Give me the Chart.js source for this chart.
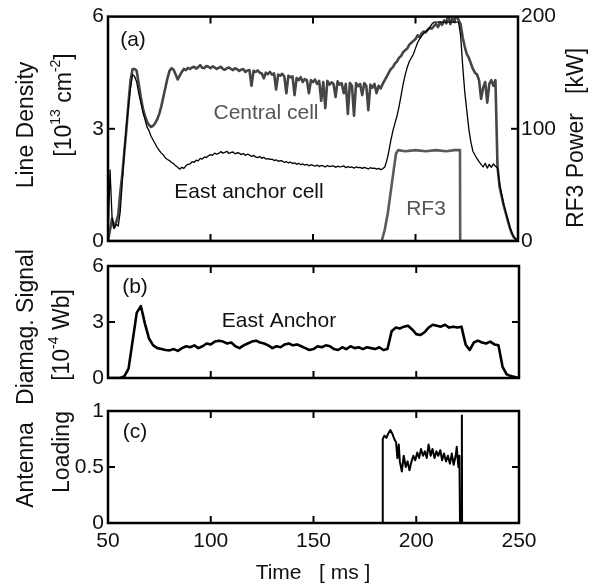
<!DOCTYPE html>
<html>
<head>
<meta charset="utf-8">
<script src="https://cdn.jsdelivr.net/npm/chart.js@4.4.0/dist/chart.umd.min.js"></script>
<style>
  html, body { margin: 0; padding: 0; background: #fff; }
  #wrap { position: relative; width: 603px; height: 587px; }
  #wrap canvas { position: absolute; left: 0; top: 0; }
</style>
</head>
<body>
<div id="wrap">
  <canvas id="panelA" width="603" height="587"></canvas>
  <canvas id="panelB" width="603" height="587"></canvas>
  <canvas id="panelC" width="603" height="587"></canvas>
</div>
<script>
// sample grids (ms)
const timeMs = [];
for (let t = 50; t <= 250; t++) timeMs.push(t);
const diamagTime = [];
for (let t = 50; t <= 250; t += 2) diamagTime.push(t);

// (a) line density [1e13 cm^-2], one value per ms from 50 to 250
const centralCell = [
  0.0, 0.3, 0.6, 0.35, 0.5, 0.7, 1.3, 1.8, 2.4, 3.0,          // 50
  3.7, 4.3, 4.6, 4.6, 4.55, 4.2, 3.85, 3.55, 3.35, 3.2,       // 60
  3.1, 3.05, 3.08, 3.15, 3.25, 3.4, 3.6, 3.85, 4.1, 4.35,     // 70
  4.55, 4.62, 4.58, 4.45, 4.32, 4.42, 4.52, 4.6, 4.57, 4.63,  // 80
  4.6, 4.64, 4.66, 4.61, 4.65, 4.7, 4.63, 4.62, 4.68, 4.66,   // 90
  4.62, 4.67, 4.64, 4.6, 4.63, 4.66, 4.6, 4.58, 4.62, 4.64,   // 100
  4.6, 4.57, 4.62, 4.59, 4.55, 4.58, 4.6, 4.52, 4.56, 4.57,   // 110
  4.15, 4.55, 4.52, 4.56, 4.5, 4.48, 4.35, 4.5, 4.46, 4.52,   // 120
  4.45, 4.48, 4.05, 4.45, 4.42, 4.47, 4.4, 3.95, 4.42, 4.38,  // 130
  4.4, 3.9, 4.36, 4.3, 4.38, 4.25, 4.33, 4.3, 3.95, 4.3,      // 140
  4.25, 4.32, 4.2, 4.28, 3.75, 4.25, 3.55, 4.28, 4.18, 4.24,  // 150
  4.2, 3.85, 4.27, 4.18, 4.22, 3.95, 4.2, 3.4, 4.22, 4.15,    // 160
  3.35, 4.22, 4.14, 4.2, 3.9, 4.22, 4.15, 3.5, 4.18, 4.1,     // 170
  4.2, 3.95, 4.15, 4.08, 4.2, 4.3, 4.4, 4.5, 4.6, 4.65,       // 180
  4.75, 4.8, 4.9, 4.95, 5.05, 5.1, 5.15, 5.25, 5.3, 5.35,     // 190
  5.4, 5.5, 5.45, 5.55, 5.6, 5.58, 5.65, 5.7, 5.68, 5.75,     // 200
  5.8, 5.72, 5.85, 5.78, 5.9, 5.82, 6.05, 5.8, 5.95, 5.85,    // 210
  6.1, 5.9, 5.8, 5.45, 5.2, 5.0, 4.9, 4.75, 4.6, 4.5,         // 220
  4.45, 4.3, 3.8, 4.1, 4.25, 3.7, 4.2, 4.3, 4.15, 4.3,        // 230
  2.0, 1.45, 1.2, 0.95, 0.75, 0.55, 0.35, 0.2, 0.1, 0.05,     // 240
  0.0
];
const eastAnchorCell = [
  0.0, 1.9, 0.6, 0.35, 0.45, 0.4, 0.8, 1.6, 2.4, 3.1,         // 50
  3.6, 4.1, 4.45, 4.4, 4.25, 3.95, 3.7, 3.45, 3.25, 3.05,     // 60
  2.95, 2.8, 2.7, 2.6, 2.5, 2.42, 2.35, 2.3, 2.22, 2.18,      // 70
  2.15, 2.1, 2.07, 2.01, 1.97, 1.92, 1.97, 1.94, 2.01, 2.05,  // 80
  2.06, 2.12, 2.1, 2.16, 2.14, 2.21, 2.19, 2.25, 2.23, 2.28,  // 90
  2.31, 2.29, 2.35, 2.32, 2.34, 2.39, 2.35, 2.37, 2.4, 2.34,  // 100
  2.37, 2.38, 2.33, 2.36, 2.35, 2.31, 2.34, 2.29, 2.32, 2.3,  // 110
  2.26, 2.29, 2.25, 2.23, 2.26, 2.21, 2.24, 2.19, 2.2, 2.18,  // 120
  2.19, 2.15, 2.17, 2.13, 2.15, 2.14, 2.1, 2.12, 2.09, 2.11,  // 130
  2.07, 2.09, 2.05, 2.08, 2.04, 2.06, 2.03, 2.05, 2.01, 2.04, // 140
  2.02, 2.0, 2.03, 1.99, 2.02, 2.01, 1.98, 2.02, 1.99, 2.0,   // 150
  2.01, 1.97, 2.0, 1.98, 1.99, 2.01, 1.96, 1.99, 1.97, 1.98,  // 160
  1.95, 1.98, 1.96, 1.97, 1.94, 1.97, 1.95, 1.93, 1.96, 1.94, // 170
  1.95, 1.92, 1.94, 1.91, 1.93, 1.98, 2.15, 2.4, 2.7, 2.95,   // 180
  3.15, 3.35, 3.6, 3.9, 4.2, 4.45, 4.65, 4.8, 4.9, 5.0,       // 190
  5.15, 5.3, 5.4, 5.48, 5.55, 5.6, 5.65, 5.72, 5.8, 5.85,     // 200
  5.85, 5.85, 5.85, 5.85, 5.85, 5.85, 5.85, 5.85, 5.85, 5.85, // 210
  5.85, 5.85, 5.5, 4.7, 4.0, 3.5, 3.0, 2.65, 2.4, 2.3,        // 220
  2.2, 2.12, 2.05, 1.98, 2.08, 1.95, 2.05, 1.97, 2.06, 2.0,   // 230
  1.95, 1.55, 1.25, 1.0, 0.78, 0.58, 0.38, 0.22, 0.1, 0.03,   // 240
  0.0
];
// RF3 power [kW]
const rf3Time  = [50, 183.5, 185, 186.5, 188, 189.5, 190.5, 191.5, 195, 200, 205, 210, 215, 219, 221.7, 221.8, 250];
const rf3Power = [0, 0, 10, 25, 45, 65, 78, 81, 80, 81, 80, 81, 80, 81, 81, 0, 0];

// (b) diamagnetic signal [1e-4 Wb], every 2 ms
const diamagSignal = [
  0, 0, 0, 0, 0.1, 0.5, 2.0, 3.5, 3.85, 2.9,
  2.1, 1.75, 1.6, 1.55, 1.5, 1.48, 1.55, 1.45, 1.6, 1.7,
  1.65, 1.75, 1.6, 1.7, 1.85, 1.8, 1.95, 2.0, 1.95, 1.85,
  1.9, 1.7, 1.6, 1.75, 1.85, 1.95, 2.0, 1.9, 1.85, 1.75,
  1.6, 1.7, 1.65, 1.8, 1.85, 1.75, 1.8, 1.7, 1.6, 1.5,
  1.55, 1.7, 1.65, 1.75, 1.7, 1.55, 1.5, 1.65, 1.55, 1.7,
  1.6, 1.65, 1.55, 1.65, 1.6, 1.55, 1.65, 1.5, 1.55, 2.5,
  2.7, 2.65, 2.75, 2.8, 2.6, 2.35, 2.3, 2.45, 2.7, 2.85,
  2.8, 2.75, 2.85, 2.7, 2.75, 2.7, 2.75, 1.8, 1.5, 1.9,
  2.0, 1.9, 1.85, 1.95, 1.8, 1.75, 0.6, 0.2, 0.1, 0.05,
  0
];

// (c) antenna loading
const antennaTime = [50, 183.5, 183.7, 184.5, 185.5, 186.4, 187.4, 188.3, 189.3, 190.2,
  190.8, 191.5, 192, 193, 193.9, 194.9, 195.8, 196.7, 197.7, 198.6,
  199.5, 200.5, 201.4, 202.3, 203.3, 204.2, 205.1, 206, 207, 207.9,
  208.9, 209.8, 210.7, 211.7, 212.6, 213.5, 214.5, 215.4, 216.4, 217.3,
  218.2, 219.2, 219.7, 220.5, 221, 221.3, 222.1, 222.2, 222.3, 250];
const antennaLoading = [0, 0, 0.75, 0.78, 0.76, 0.8, 0.83, 0.8, 0.75, 0.72,
  0.58, 0.7, 0.55, 0.46, 0.6, 0.5, 0.55, 0.47, 0.55, 0.6,
  0.56, 0.63, 0.58, 0.66, 0.6, 0.64, 0.58, 0.7, 0.6, 0.66,
  0.58, 0.64, 0.6, 0.65, 0.56, 0.62, 0.55, 0.6, 0.53, 0.62,
  0.52, 0.6, 0.68, 0.5, 0.6, 0, 0, 0.96, 0, 0];

const FONT = '"Liberation Sans", Arial, Helvetica, sans-serif';
Chart.defaults.font.family = FONT;
Chart.defaults.font.size = 21;
Chart.defaults.color = '#111';

function pts(xs, ys) { return xs.map((x, i) => ({ x: x, y: ys[i] })); }
function fixedWidth(w) { return s => { s.width = w; }; }
function fixedHeight(h) { return s => { s.height = h; }; }

// box around the plot area and small inward ticks
const frameTicks = {
  id: 'frameTicks',
  afterDatasetsDraw(chart, args, opts) {
    const { ctx, chartArea: a, scales } = chart;
    ctx.save();
    ctx.strokeStyle = '#000';
    ctx.lineWidth = 2;
    (opts.xTicks || []).forEach(v => {
      const x = scales.x.getPixelForValue(v);
      ctx.beginPath();
      ctx.moveTo(x, a.bottom); ctx.lineTo(x, a.bottom - 7);
      ctx.moveTo(x, a.top); ctx.lineTo(x, a.top + 7);
      ctx.stroke();
    });
    (opts.yTicks || []).forEach(([id, v, side]) => {
      const y = scales[id].getPixelForValue(v);
      ctx.beginPath();
      if (side !== 'right') { ctx.moveTo(a.left, y); ctx.lineTo(a.left + 7, y); }
      if (side !== 'left') { ctx.moveTo(a.right, y); ctx.lineTo(a.right - 7, y); }
      ctx.stroke();
    });
    ctx.lineWidth = 2.5;
    ctx.strokeRect(a.left, a.top, a.width, a.height);
    ctx.restore();
  }
};

// free text, with optional superscript parts and vertical rotation
function drawText(ctx, item) {
  const parts = typeof item.text === 'string' ? [[item.text, 0]] : item.text;
  const size = item.size || 21;
  const supSize = Math.round(size * 0.6);
  ctx.save();
  ctx.translate(item.x, item.y);
  if (item.rot) ctx.rotate(-Math.PI / 2);
  ctx.fillStyle = item.color || '#111';
  ctx.textBaseline = 'middle';
  ctx.textAlign = 'left';
  let total = 0;
  parts.forEach(([s, sup]) => {
    ctx.font = (sup ? supSize : size) + 'px ' + FONT;
    total += ctx.measureText(s).width;
  });
  let x = -total / 2;
  parts.forEach(([s, sup]) => {
    ctx.font = (sup ? supSize : size) + 'px ' + FONT;
    ctx.fillText(s, x, sup ? -size * 0.38 : 0);
    x += ctx.measureText(s).width;
  });
  ctx.restore();
}
const panelText = {
  id: 'panelText',
  afterDraw(chart, args, opts) {
    (opts.items || []).forEach(it => drawText(chart.ctx, it));
  }
};

const noGrid = { display: false, drawTicks: false };
const lineEl = { point: { radius: 0 }, line: { tension: 0, borderJoinStyle: 'round' } };
const plainNum = v => String(v);

new Chart(document.getElementById('panelA'), {
  type: 'line',
  data: {
    datasets: [
      { label: 'East anchor cell', data: pts(timeMs, eastAnchorCell), borderColor: '#000', borderWidth: 1.3, order: 0, yAxisID: 'y' },
      { label: 'Central cell', data: pts(timeMs, centralCell), borderColor: '#454545', borderWidth: 2.6, order: 1, yAxisID: 'y' },
      { label: 'RF3', data: pts(rf3Time, rf3Power), borderColor: '#5a5a5a', borderWidth: 2.6, order: 2, yAxisID: 'y2' }
    ]
  },
  options: {
    responsive: false,
    animation: false,
    layout: { padding: { left: 68, right: 40, top: 15, bottom: 346 } },
    elements: lineEl,
    plugins: {
      legend: { display: false },
      tooltip: { enabled: false },
      frameTicks: { xTicks: [100, 150, 200], yTicks: [['y', 3, 'left'], ['y2', 100, 'right']] },
      panelText: {
        items: [
          { text: '(a)', x: 133, y: 40 },
          { text: 'Central cell', x: 266, y: 113, color: '#555' },
          { text: 'East anchor cell', x: 249, y: 192 },
          { text: 'RF3', x: 426, y: 209, color: '#555' },
          { text: 'Line Density', x: 27, y: 125, rot: true, size: 23 },
          { text: [['[10', 0], ['13', 1], [' cm', 0], ['-2', 1], [']', 0]], x: 65, y: 105, rot: true, size: 23 },
          { text: 'RF3 Power   [kW]', x: 577, y: 138, rot: true, size: 23 }
        ]
      }
    },
    scales: {
      x: { type: 'linear', min: 50, max: 250, display: false },
      y: { position: 'left', min: 0, max: 6, grid: noGrid, border: { display: false },
           ticks: { stepSize: 3, padding: 4, callback: plainNum }, afterFit: fixedWidth(40) },
      y2: { position: 'right', min: 0, max: 200, grid: noGrid, border: { display: false },
            ticks: { stepSize: 100, padding: 3, callback: plainNum }, afterFit: fixedWidth(45) }
    }
  },
  plugins: [frameTicks, panelText]
});

new Chart(document.getElementById('panelB'), {
  type: 'line',
  data: {
    datasets: [
      { label: 'East Anchor', data: pts(diamagTime, diamagSignal), borderColor: '#000', borderWidth: 2.6 }
    ]
  },
  options: {
    responsive: false,
    animation: false,
    layout: { padding: { left: 68, right: 84, top: 266, bottom: 209 } },
    elements: lineEl,
    plugins: {
      legend: { display: false },
      tooltip: { enabled: false },
      frameTicks: { xTicks: [100, 150, 200], yTicks: [['y', 3, 'both']] },
      panelText: {
        items: [
          { text: '(b)', x: 135, y: 287 },
          { text: 'East Anchor', x: 279, y: 321 },
          { text: 'Diamag. Signal', x: 27, y: 327, rot: true, size: 23 },
          { text: [['[10', 0], ['-4', 1], [' Wb]', 0]], x: 63, y: 335, rot: true, size: 23 }
        ]
      }
    },
    scales: {
      x: { type: 'linear', min: 50, max: 250, display: false },
      y: { position: 'left', min: 0, max: 6, grid: noGrid, border: { display: false },
           ticks: { stepSize: 3, padding: 4, callback: plainNum }, afterFit: fixedWidth(40) }
    }
  },
  plugins: [frameTicks, panelText]
});

new Chart(document.getElementById('panelC'), {
  type: 'line',
  data: {
    datasets: [
      { label: 'Antenna Loading', data: pts(antennaTime, antennaLoading), borderColor: '#000', borderWidth: 2 }
    ]
  },
  options: {
    responsive: false,
    animation: false,
    layout: { padding: { left: 68, right: 84, top: 411, bottom: 24 } },
    elements: lineEl,
    plugins: {
      legend: { display: false },
      tooltip: { enabled: false },
      frameTicks: { xTicks: [100, 150, 200], yTicks: [['y', 0.5, 'both']] },
      panelText: {
        items: [
          { text: '(c)', x: 135, y: 432 },
          { text: 'Antenna', x: 27, y: 465, rot: true, size: 23 },
          { text: 'Loading', x: 63, y: 452, rot: true, size: 23 },
          { text: 'Time   [ ms ]', x: 313, y: 573 }
        ]
      }
    },
    scales: {
      x: { type: 'linear', min: 50, max: 250, grid: noGrid, border: { display: false },
           ticks: { stepSize: 50, padding: 6, autoSkip: false, maxRotation: 0, callback: plainNum }, afterFit: fixedHeight(40) },
      y: { position: 'left', min: 0, max: 1, grid: noGrid, border: { display: false },
           ticks: { stepSize: 0.5, padding: 4, callback: plainNum }, afterFit: fixedWidth(40) }
    }
  },
  plugins: [frameTicks, panelText]
});
</script>
</body>
</html>
